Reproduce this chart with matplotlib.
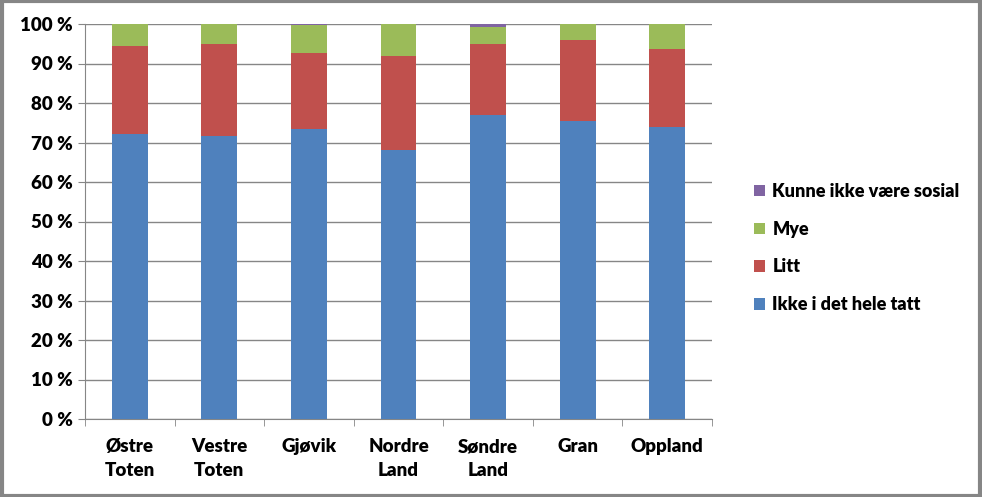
import matplotlib
matplotlib.use("Agg")
import matplotlib.pyplot as plt
import numpy as np
from matplotlib.patches import Rectangle

# data (percent)
kommuner = ["Østre\nToten", "Vestre\nToten", "Gjøvik", "Nordre\nLand", "Søndre\nLand", "Gran", "Oppland"]
ikke_i_det_hele_tatt = [72.2, 71.6, 73.4, 68.1, 77.0, 75.4, 73.9]
litt = [22.2, 23.3, 19.3, 23.8, 17.9, 20.6, 19.8]
mye = [5.6, 5.1, 7.1, 8.1, 4.3, 4.0, 6.2]
kunne_ikke_vaere_sosial = [0.0, 0.0, 0.2, 0.0, 0.8, 0.0, 0.1]

series = [
    ("Ikke i det hele tatt", ikke_i_det_hele_tatt, "#4F81BD"),
    ("Litt", litt, "#C0504D"),
    ("Mye", mye, "#9BBB59"),
    ("Kunne ikke være sosial", kunne_ikke_vaere_sosial, "#8064A2"),
]

plt.rcParams["font.family"] = ["Lato", "DejaVu Sans"]

fig = plt.figure(figsize=(9.82, 4.97), dpi=100)
ax = fig.add_axes([85 / 982, 78 / 497, 627 / 982, 395 / 497])

x = np.arange(len(kommuner))
bottom = np.zeros(len(kommuner))
handles = []
for name, vals, col in series:
    b = ax.bar(x, vals, 0.4, bottom=bottom, color=col, label=name, zorder=3)
    bottom += np.array(vals)
    handles.append(b)

ax.set_xlim(-0.5, len(kommuner) - 0.5)
ax.set_ylim(0, 100)
ax.set_yticks(range(0, 101, 10))
ax.set_yticklabels([f"{v} %" for v in range(0, 101, 10)], fontsize=13.5, fontweight="heavy")
ax.yaxis.grid(True, color="#868686", linewidth=1, zorder=0)

ax.set_xticks(x)
ax.set_xticklabels(kommuner, fontsize=13.5, fontweight="heavy", linespacing=1.5)
ax.set_xticks(np.arange(-0.5, len(kommuner)), minor=True)
ax.tick_params(axis="x", which="major", length=0, pad=14)
ax.tick_params(axis="x", which="minor", length=5, color="#868686")
ax.tick_params(axis="y", length=5, color="#868686", pad=4)

for s in ["top", "right"]:
    ax.spines[s].set_visible(False)
for s in ["left", "bottom"]:
    ax.spines[s].set_color("#868686")

leg = fig.legend(handles[::-1], [h.get_label() for h in handles[::-1]],
                 loc="center left", bbox_to_anchor=(738 / 982, 1 - 248 / 497),
                 frameon=False, prop={"size": 13, "weight": "heavy"},
                 handlelength=0.6, handleheight=0.6, handletextpad=0.4,
                 labelspacing=1.15)

# outer frame
fig.patches.append(Rectangle((0.002, 0.003), 0.996, 0.994, transform=fig.transFigure,
                             fill=False, edgecolor="#868686", linewidth=3))

fig.savefig("out.png", dpi=100)
